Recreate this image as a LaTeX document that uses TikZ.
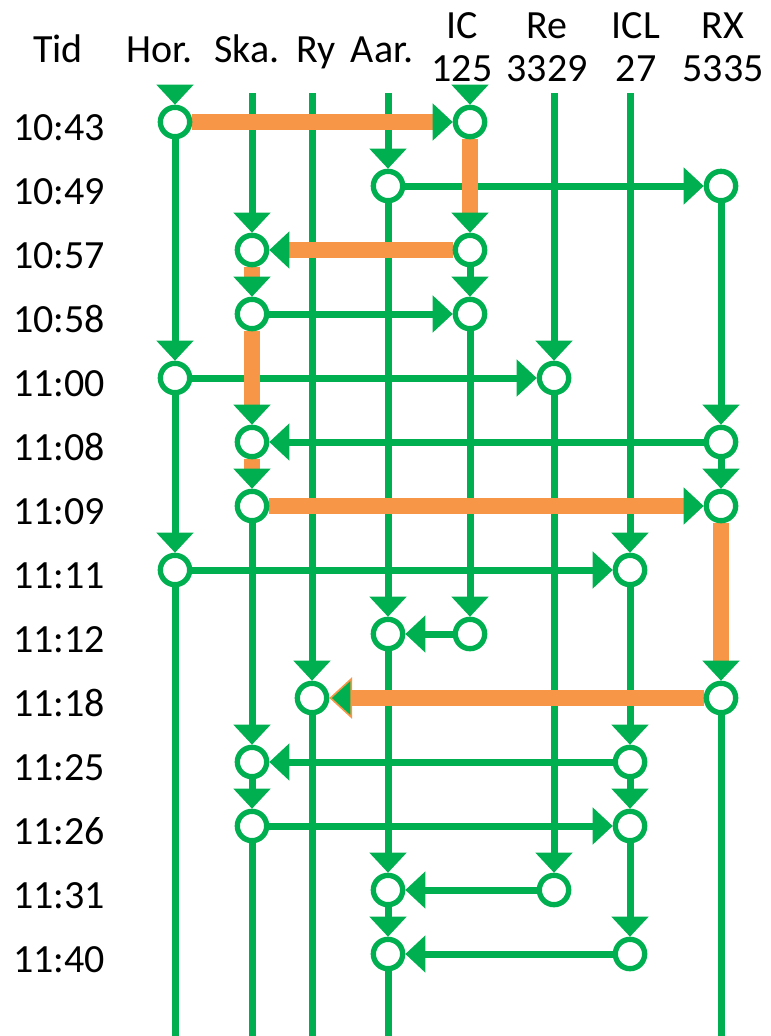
\documentclass[tikz,border=0pt]{standalone}
\usepackage{fontspec}
\setmainfont{Carlito}
\usetikzlibrary{arrows.meta,backgrounds}
\definecolor{Line}{HTML}{00B050}
\definecolor{Route}{HTML}{F79646}
\tikzset{halt/.style={circle,draw=Line,fill=white,line width=4pt,minimum size=22pt,inner sep=0pt},rail/.style={draw=Line,line width=5.25pt},leg/.style={rail,-{Triangle[length=15pt,width=28pt,line width=0pt]}},route/.style={draw=Route,line width=12pt,-{Triangle[length=15pt,width=28pt,color=Line,line width=0pt]}},routelast/.style={draw=Route,line width=12pt,-{Triangle[length=17pt,width=31pt,fill=Line,line width=1.2pt]}},lab/.style={font=\fontsize{30pt}{32.25pt}\selectfont,inner sep=0pt,align=center}}

\begin{document}
\begin{tikzpicture}[x=0.75pt,y=-0.75pt]
\useasboundingbox (0,0) rectangle (771,1036);
\node[lab,anchor=base] (htid) at (58,62) {Tid};
\node[lab,anchor=base] (hhor) at (160,62) {Hor.};
\node[lab,anchor=base] (hska) at (247,62) {Ska.};
\node[lab,anchor=base] (hry) at (316,62) {Ry};
\node[lab,anchor=base] (haar) at (382,62) {Aar.};
\node[lab,anchor=south] (hic) at (462,82) {IC\\125};
\node[lab,anchor=south] (hre) at (547,82) {Re\\3329};
\node[lab,anchor=south] (hicl) at (636,82) {ICL\\27};
\node[lab,anchor=south] (hrx) at (723,82) {RX\\5335};
\node[lab,anchor=base] (t1043) at (59,140) {10:43};
\node[lab,anchor=base] (t1049) at (59,204) {10:49};
\node[lab,anchor=base] (t1057) at (59,268) {10:57};
\node[lab,anchor=base] (t1058) at (59,332) {10:58};
\node[lab,anchor=base] (t1100) at (59,396) {11:00};
\node[lab,anchor=base] (t1108) at (59,460) {11:08};
\node[lab,anchor=base] (t1109) at (59,524) {11:09};
\node[lab,anchor=base] (t1111) at (59,588) {11:11};
\node[lab,anchor=base] (t1112) at (59,652) {11:12};
\node[lab,anchor=base] (t1118) at (59,716) {11:18};
\node[lab,anchor=base] (t1125) at (59,780) {11:25};
\node[lab,anchor=base] (t1126) at (59,844) {11:26};
\node[lab,anchor=base] (t1131) at (59,908) {11:31};
\node[lab,anchor=base] (t1140) at (59,972) {11:40};

\coordinate (horT) at (175,86); \coordinate (horB) at (175,1036);
\coordinate (skaT) at (252,93); \coordinate (skaB) at (252,1036);
\coordinate (ryT) at (312,93); \coordinate (ryB) at (312,1036);
\coordinate (aarT) at (388,93); \coordinate (aarB) at (388,1036);
\coordinate (icT) at (470,89);
\coordinate (reT) at (554,93);
\coordinate (iclT) at (630,93);
\coordinate (rxB) at (721,1036);

\node[halt] (hor1043) at (175,122) {};
\node[halt] (hor1100) at (175,378) {};
\node[halt] (hor1111) at (175,570) {};
\node[halt] (ska1057) at (252,250) {};
\node[halt] (ska1058) at (252,314) {};
\node[halt] (ska1108) at (252,442) {};
\node[halt] (ska1109) at (252,506) {};
\node[halt] (ska1125) at (252,762) {};
\node[halt] (ska1126) at (252,826) {};
\node[halt] (ry1118) at (312,698) {};
\node[halt] (aar1049) at (388,186) {};
\node[halt] (aar1112) at (388,634) {};
\node[halt] (aar1131) at (388,890) {};
\node[halt] (aar1140) at (388,954) {};
\node[halt] (ic1043) at (470,122) {};
\node[halt] (ic1057) at (470,250) {};
\node[halt] (ic1058) at (470,314) {};
\node[halt] (ic1112) at (470,634) {};
\node[halt] (re1100) at (554,378) {};
\node[halt] (re1131) at (554,890) {};
\node[halt] (icl1111) at (630,570) {};
\node[halt] (icl1125) at (630,762) {};
\node[halt] (icl1126) at (630,826) {};
\node[halt] (icl1140) at (630,954) {};
\node[halt] (rx1049) at (721,186) {};
\node[halt] (rx1108) at (721,442) {};
\node[halt] (rx1109) at (721,506) {};
\node[halt] (rx1118) at (721,698) {};

\begin{scope}[on background layer]
\draw[leg] (horT)--(hor1043); \draw[leg] (hor1043)--(hor1100); \draw[leg] (hor1100)--(hor1111); \draw[rail] (hor1111)--(horB);
\draw[leg] (skaT)--(ska1057); \draw[leg] (ska1109)--(ska1125); \draw[leg] (ska1125)--(ska1126); \draw[rail] (ska1126)--(skaB);
\draw[leg] (ryT)--(ry1118); \draw[rail] (ry1118)--(ryB);
\draw[leg] (aarT)--(aar1049); \draw[leg] (aar1049)--(aar1112); \draw[leg] (aar1112)--(aar1131); \draw[leg] (aar1131)--(aar1140); \draw[rail] (aar1140)--(aarB);
\draw[leg] (icT)--(ic1043); \draw[leg] (ic1057)--(ic1058); \draw[leg] (ic1058)--(ic1112);
\draw[leg] (reT)--(re1100); \draw[leg] (re1100)--(re1131);
\draw[leg] (iclT)--(icl1111); \draw[leg] (icl1111)--(icl1125); \draw[leg] (icl1125)--(icl1126); \draw[leg] (icl1126)--(icl1140);
\draw[leg] (rx1049)--(rx1108); \draw[leg] (rx1108)--(rx1109); \draw[rail] (rx1118)--(rxB);
\draw[leg] (aar1049)--(rx1049);
\draw[leg] (ska1058)--(ic1058);
\draw[leg] (hor1100)--(re1100);
\draw[leg] (rx1108)--(ska1108);
\draw[leg] (hor1111)--(icl1111);
\draw[leg] (ic1112)--(aar1112);
\draw[leg] (icl1125)--(ska1125);
\draw[leg] (ska1126)--(icl1126);
\draw[leg] (re1131)--(aar1131);
\draw[leg] (icl1140)--(aar1140);
\draw[route] (hor1043)--(ic1043); \draw[route] (ic1043)--(ic1057); \draw[route] (ic1057)--(ska1057);
\draw[route] (ska1057)--(ska1058); \draw[route] (ska1058)--(ska1108); \draw[route] (ska1108)--(ska1109);
\draw[route] (ska1109)--(rx1109); \draw[route] (rx1109)--(rx1118);
\draw[routelast] (rx1118)--(ry1118);
\end{scope}
\end{tikzpicture}
\end{document}
